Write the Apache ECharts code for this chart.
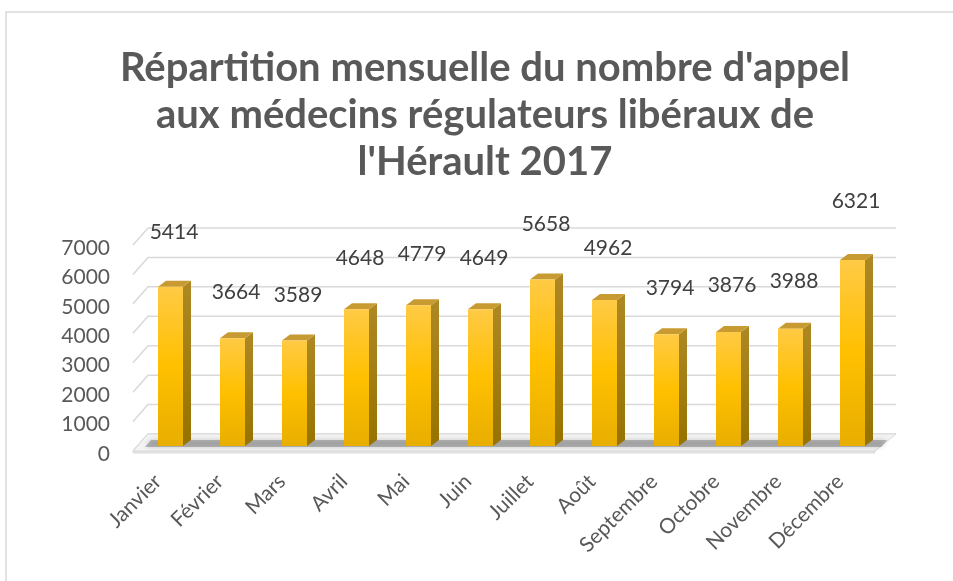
<!DOCTYPE html>
<html><head><meta charset="utf-8">
<script src="https://cdn.jsdelivr.net/npm/echarts/dist/echarts.min.js"></script>
<style>html,body{margin:0;padding:0;background:#fff}#c{width:953px;height:581px}</style>
</head><body><div id="c"></div>
<script>
const months = ['Janvier','Février','Mars','Avril','Mai','Juin','Juillet','Août','Septembre','Octobre','Novembre','Décembre'];
const calls = [5414,3664,3589,4648,4779,4649,5658,4962,3794,3876,3988,6321];
const yTicks = [0,1000,2000,3000,4000,5000,6000,7000];
const titleText = "Répartition mensuelle du nombre d'appel\naux médecins régulateurs libéraux de\nl'Hérault 2017";

const chart = echarts.init(document.getElementById('c'));
const FONT = 'Lato, "Open Sans", sans-serif';

function gridRender(params, api) {
  const cs = params.coordSys;
  const y = api.coord([0, api.value(1)])[1];
  const right = cs.x + cs.width;
  return {
    type: 'polyline',
    shape: { points: [[cs.x - 6, y + 5], [cs.x + 9, y - 12], [right + 13, y - 12]] },
    style: { stroke: '#d9d9d9', lineWidth: 1.5, fill: null }
  };
}

function floorRender(params, api) {
  const cs = params.coordSys;
  const y0 = api.coord([0, 0])[1];
  const right = cs.x + cs.width;
  return {
    type: 'group',
    children: [
      { type: 'polygon', shape: { points: [[cs.x - 6, y0 + 5], [right - 8, y0 + 5], [right - 8, y0 + 7], [cs.x - 6, y0 + 7]] },
        style: { fill: '#e8e8e8', stroke: '#dcdcdc', lineWidth: 1 } },
      { type: 'polygon', shape: { points: [[cs.x - 6, y0 + 5], [cs.x + 9, y0 - 12], [right + 13, y0 - 12], [right - 8, y0 + 5]] },
        style: { fill: '#f3f3f3', stroke: '#dadada', lineWidth: 1 } },
      { type: 'polygon', shape: { points: [[cs.x + 6, y0 + 1], [cs.x + 12, y0 - 6], [right + 4, y0 - 6], [right - 2, y0 + 1]] },
        style: { fill: 'rgba(90,90,90,0.38)', shadowBlur: 5, shadowColor: 'rgba(0,0,0,0.45)' } }
    ]
  };
}

const frontGrad = new echarts.graphic.LinearGradient(0, 0, 0, 1, [
  { offset: 0, color: '#FFCA45' }, { offset: 0.5, color: '#FFC000' }, { offset: 1, color: '#E8AE00' }
]);
const sideGrad = new echarts.graphic.LinearGradient(0, 0, 0, 1, [
  { offset: 0, color: '#AE8824' }, { offset: 1, color: '#967300' }
]);

function barRender(params, api) {
  const v = api.value(1);
  const c = api.coord([api.value(0), v]);
  const b = api.coord([api.value(0), 0]);
  const w = 25, dx = 8, dy = 6;
  const x0 = c[0] - 12, x1 = x0 + w;
  const labelY = c[1] - 28 - 0.165 * (b[1] - c[1]);
  return {
    type: 'group',
    children: [
      { type: 'polygon', shape: { points: [[x1, c[1]], [x1 + dx, c[1] - dy], [x1 + dx, b[1] - dy], [x1, b[1]]] },
        style: { fill: sideGrad } },
      { type: 'polygon', shape: { points: [[x0, c[1]], [x0 + dx, c[1] - dy], [x1 + dx, c[1] - dy], [x1, c[1]]] },
        style: { fill: '#C89A32' } },
      { type: 'rect', shape: { x: x0, y: c[1], width: w, height: b[1] - c[1] },
        style: { fill: frontGrad } },
      { type: 'text', x: c[0] + 4, y: labelY,
        style: { text: String(v), fill: '#404040', font: '21px ' + FONT, align: 'center', verticalAlign: 'middle' } }
    ]
  };
}

chart.setOption({
  animation: false,
  backgroundColor: '#ffffff',
  graphic: [
    { type: 'rect', shape: { x: 6, y: 12, width: 1000, height: 1000 }, style: { fill: null, stroke: '#d9d9d9', lineWidth: 1.5 }, z: -10 },
    { type: 'text', x: 485, y: 45, style: { text: titleText, fill: '#595959', font: 'bold 40px ' + FONT, lineHeight: 47, align: 'center', verticalAlign: 'top' } }
  ],
  grid: { left: 139, right: 70, top: 240, bottom: 135 },
  xAxis: {
    type: 'category', data: months,
    axisLine: { show: false }, axisTick: { show: false },
    axisLabel: { rotate: 45, interval: 0, margin: 20, color: '#595959', fontFamily: FONT, fontSize: 21, padding: [0, 17, 0, 0] }
  },
  yAxis: {
    type: 'value', min: 0, max: 7000, interval: 1000,
    axisLine: { show: false }, axisTick: { show: false }, splitLine: { show: false },
    axisLabel: { margin: 29, color: '#595959', fontFamily: FONT, fontSize: 21, verticalAlign: 'top', lineHeight: 16, formatter: v => String(v) }
  },
  series: [
    { type: 'custom', renderItem: gridRender, data: yTicks.map(v => [0, v]), z: 1, silent: true },
    { type: 'custom', renderItem: floorRender, data: [[0, 0]], z: 2, silent: true },
    { type: 'custom', renderItem: barRender, data: calls.map((v, i) => [i, v]), z: 3 }
  ]
});
</script></body></html>
